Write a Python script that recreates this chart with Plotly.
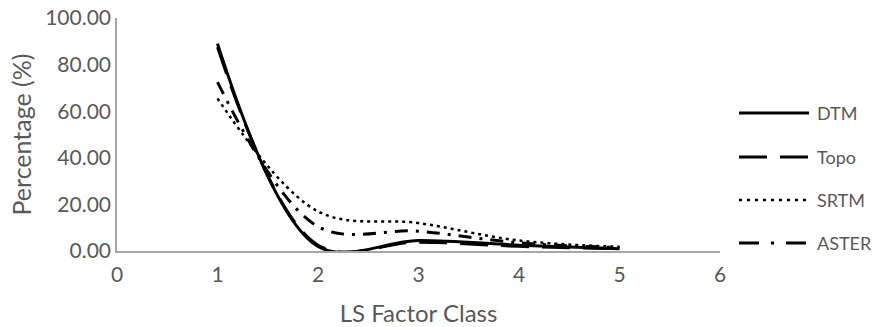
import plotly.graph_objects as go

classes = [1, 2, 3, 4, 5]
dtm = [89.0, 2.0, 4.5, 2.5, 1.0]
topo = [87.5, 2.5, 3.8, 2.0, 1.0]
srtm = [65.5, 17.0, 12.0, 4.5, 1.8]
aster = [72.5, 10.5, 8.5, 3.5, 1.5]

series_names = ["DTM", "Topo", "SRTM", "ASTER"]
series_vals = [dtm, topo, srtm, aster]
plot_dash = ["solid", "28px,13px", "3px,4px", "13px,8px,3px,8px"]
legend_dash = ["solid", "28px,13px", "3px,5px", "20px,12px,3px,12px"]
widths = [3, 3, 2.5, 3]

grey = "#595959"
fig = go.Figure()
for name, vals, dash, w in zip(series_names, series_vals, plot_dash, widths):
    fig.add_trace(go.Scatter(
        x=classes, y=vals, name=name, mode="lines",
        line=dict(color="black", width=w, dash=dash, shape="spline", smoothing=1.0),
    ))

# custom legend (long line samples like the reference)
legend_y = [0.592, 0.403, 0.219, 0.034]
for name, dash, w, ly in zip(series_names, legend_dash, widths, legend_y):
    fig.add_shape(type="line", xref="paper", yref="paper",
                  x0=1.0315, x1=1.1476, y0=ly, y1=ly,
                  line=dict(color="black", width=w, dash=dash))
    fig.add_annotation(xref="paper", yref="paper", x=1.158, y=ly, text=name,
                       showarrow=False, xanchor="left", yanchor="middle",
                       font=dict(size=18, color=grey))

fig.update_layout(
    width=882, height=327,
    margin=dict(l=117, r=162, t=18, b=76),
    plot_bgcolor="white", paper_bgcolor="white",
    font=dict(family="Lato, Open Sans, sans-serif", color=grey, size=16),
    showlegend=False,
    xaxis=dict(range=[0, 6], tickvals=[0, 1, 2, 3, 4, 5, 6], showgrid=False,
               zeroline=False, showline=True, linecolor="#a6a6a6", linewidth=1.5,
               ticks="", tickfont=dict(size=21, color=grey), automargin=False,
               ticklabelstandoff=4, ticklabeloverflow="allow",
               title=dict(text="LS Factor Class", font=dict(size=24, color=grey), standoff=24)),
    yaxis=dict(range=[0, 100], tickvals=[0, 20, 40, 60, 80, 100], tickformat=".2f",
               showgrid=False, zeroline=False, showline=True, linecolor="#a6a6a6",
               linewidth=1.5, ticks="", tickfont=dict(size=21, color=grey), automargin=False,
               ticklabeloverflow="allow",
               title=dict(text="Percentage (%)", font=dict(size=25, color=grey), standoff=6)),
)

# remove the browser's default 8px page margin so the figure sits at the window origin
fig.write_html("out.html", config={"displayModeBar": False},
               post_script="document.body.style.margin='0';")
